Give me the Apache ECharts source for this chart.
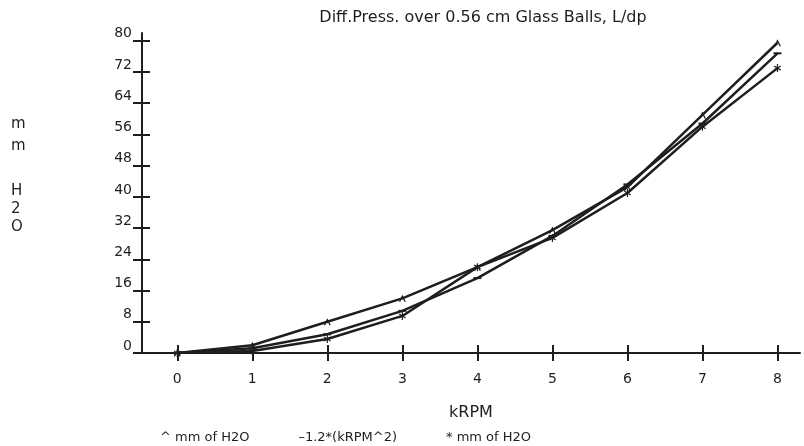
<!DOCTYPE html>
<html>
<head>
<meta charset="utf-8">
<script src="https://cdn.jsdelivr.net/npm/echarts@6/dist/echarts.min.js"></script>
<style>html,body{margin:0;padding:0;background:#fff}#c{width:804px;height:446px}</style>
</head>
<body>
<div id="c"></div>
<script>
// ---- data ----
const kRPM = [0, 1, 2, 3, 4, 5, 6, 7, 8];
const caretSeries = [0, 2, 8, 14, 22, 31.5, 42.5, 61, 79.5];     // ^ mm of H2O
const formulaSeries = [0, 1.2, 4.8, 10.8, 19.2, 30, 43.2, 58.8, 76.8]; // 1.2*(kRPM^2)
const starSeries = [0, 0.5, 3.6, 9.5, 22, 29.5, 41, 58, 73];      // * mm of H2O
const xTicks = [0, 1, 2, 3, 4, 5, 6, 7, 8];
const yTicks = [0, 8, 16, 24, 32, 40, 48, 56, 64, 72, 80];
const seriesNames = ['^ mm of H2O', '\u20131.2*(kRPM^2)', '* mm of H2O'];
const titleText = 'Diff.Press. over 0.56 cm Glass Balls, L/dp';
const xName = 'kRPM';
const yNameTop = 'm\nm';
const yNameBottom = 'H\n2\nO';

const pairs = arr => kRPM.map((x, i) => [x, arr[i]]);
const ink = '#1e1e1e';
const font = 'DejaVu Sans';

const caretPath = 'path://M0,7 L3.5,0 L7,7 L5.6,7 L3.5,2.8 L1.4,7 Z';
const dashPath = 'path://M0,0 H8 V2 H0 Z';
const starPath = 'path://M3,0h1.2v2.8l2.4-1.4l0.6,1l-2.4,1.4l2.4,1.4l-0.6,1l-2.4-1.4v2.8h-1.2v-2.8l-2.4,1.4l-0.6-1l2.4-1.4l-2.4-1.4l0.6-1l2.4,1.4z';

const chart = echarts.init(document.getElementById('c'), null, {renderer: 'canvas'});
const xBase = {
  type: 'value', min: -0.47, max: 8.3, position: 'bottom',
  splitLine: {show: false}
};
const yBase = {
  type: 'value', min: 0, max: 82, position: 'left',
  splitLine: {show: false}
};
chart.setOption({
  animation: false,
  backgroundColor: '#fff',
  title: {
    text: titleText, left: 478, top: 5, textAlign: 'center',
    textStyle: {fontFamily: font, fontSize: 16, fontWeight: 'normal', color: ink}
  },
  graphic: [
    {type: 'text', left: 11, top: 113,
     style: {text: yNameTop, font: '15px ' + font, fill: ink, lineHeight: 22, align: 'left'}},
    {type: 'text', left: 11, top: 182,
     style: {text: yNameBottom, font: '15px ' + font, fill: ink, lineHeight: 18, align: 'left'}}
  ],
  legend: {
    left: 150, top: 426, itemGap: 44, itemWidth: 0, itemHeight: 0, icon: 'rect',
    selectedMode: false,
    textStyle: {fontFamily: font, fontSize: 13, color: ink},
    data: seriesNames
  },
  grid: {left: 142, right: 4, top: 33, bottom: 93, containLabel: false},
  xAxis: [
    Object.assign({}, xBase, {
      name: xName, nameLocation: 'middle', nameGap: 52,
      nameTextStyle: {fontFamily: font, fontSize: 16, color: ink},
      axisLine: {show: true, onZero: false, lineStyle: {color: ink, width: 2}},
      axisTick: {show: true, inside: false, length: 8, customValues: xTicks, lineStyle: {color: ink, width: 2}},
      axisLabel: {show: true, customValues: xTicks, margin: 19, fontFamily: font, fontSize: 14, color: ink}
    }),
    Object.assign({}, xBase, {
      axisLine: {show: false, onZero: false},
      axisTick: {show: true, inside: true, length: 8, customValues: xTicks, lineStyle: {color: ink, width: 2}},
      axisLabel: {show: false}
    })
  ],
  yAxis: [
    Object.assign({}, yBase, {
      axisLine: {show: true, onZero: false, lineStyle: {color: ink, width: 2}},
      axisTick: {show: true, inside: false, length: 9, customValues: yTicks, lineStyle: {color: ink, width: 2}},
      axisLabel: {show: true, customValues: yTicks, margin: 10, verticalAlign: 'bottom', fontFamily: font, fontSize: 14, color: ink}
    }),
    Object.assign({}, yBase, {
      axisLine: {show: false, onZero: false},
      axisTick: {show: true, inside: true, length: 8, customValues: yTicks, lineStyle: {color: ink, width: 2}},
      axisLabel: {show: false}
    })
  ],
  series: [
    {name: seriesNames[0], type: 'line', xAxisIndex: 0, yAxisIndex: 0, data: pairs(caretSeries),
     symbol: caretPath, symbolSize: [7, 7], showSymbol: true,
     lineStyle: {color: ink, width: 2.5}, itemStyle: {color: ink}},
    {name: seriesNames[1], type: 'line', xAxisIndex: 0, yAxisIndex: 0, data: pairs(formulaSeries),
     symbol: dashPath, symbolSize: [8, 2], showSymbol: true,
     lineStyle: {color: ink, width: 2.5}, itemStyle: {color: ink}},
    {name: seriesNames[2], type: 'line', xAxisIndex: 0, yAxisIndex: 0, data: pairs(starSeries),
     symbol: starPath, symbolSize: [7, 8], showSymbol: true,
     lineStyle: {color: ink, width: 2.5}, itemStyle: {color: ink}}
  ]
});
</script>
</body>
</html>
